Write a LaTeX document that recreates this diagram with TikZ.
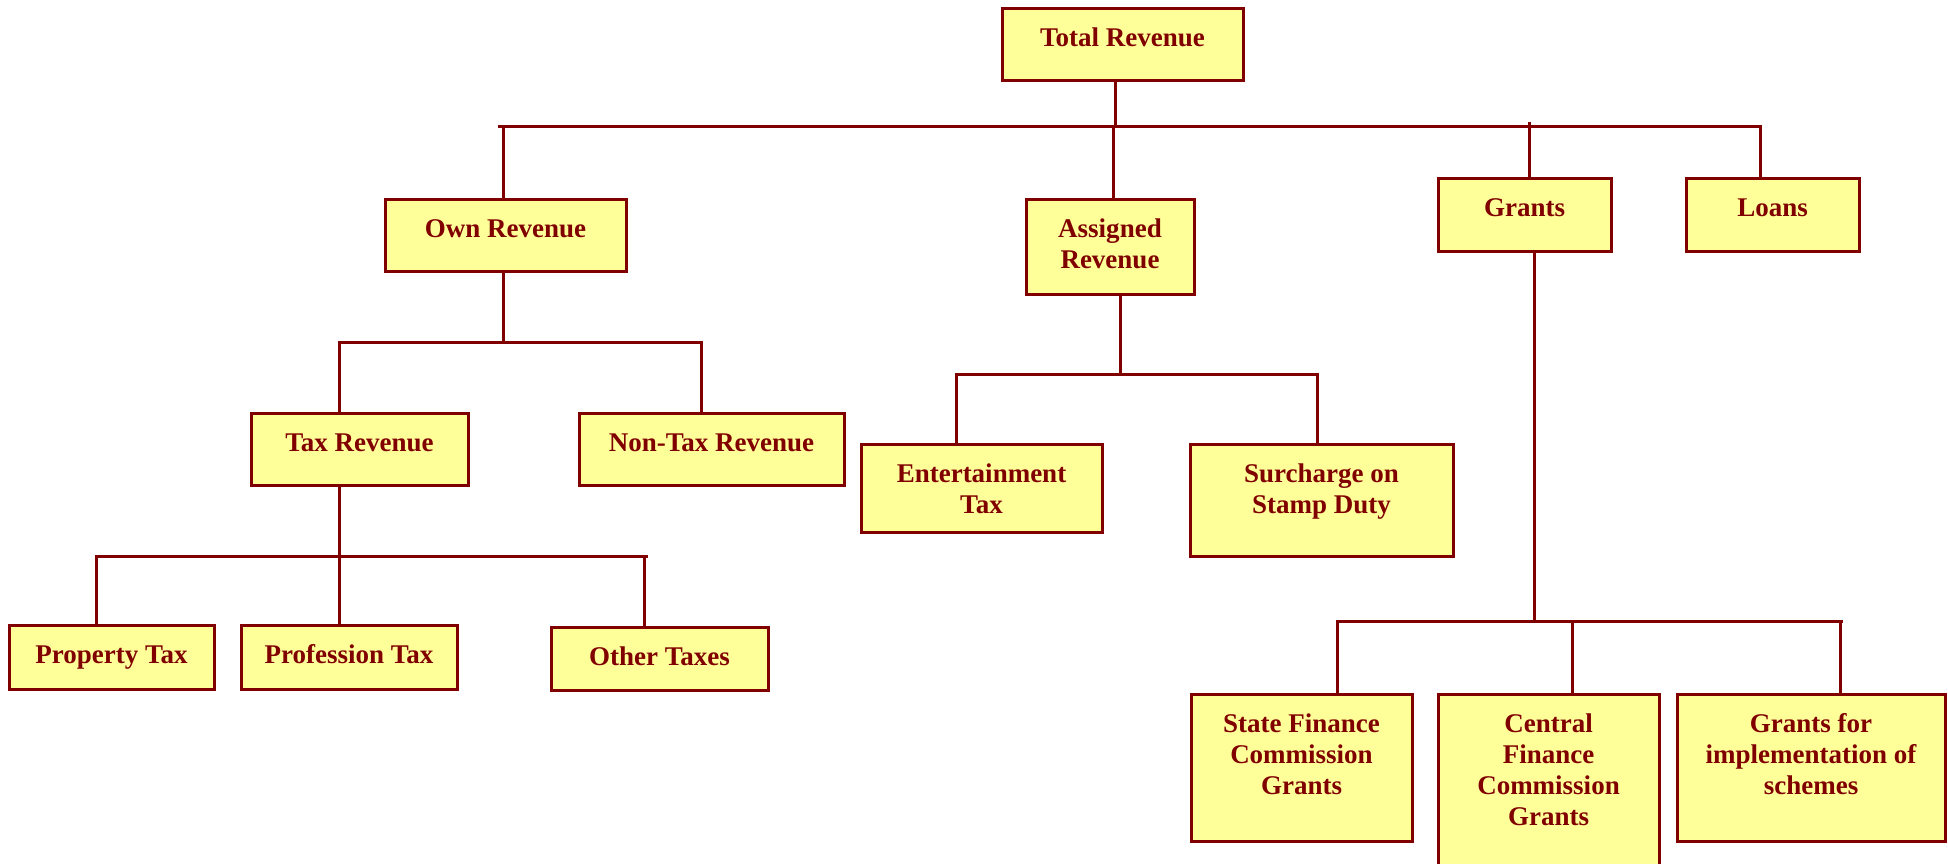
\documentclass[tikz,border=0pt]{standalone}
\usepackage{fontspec}
\setmainfont{Liberation Serif}
\usetikzlibrary{fit,calc}

\definecolor{boxred}{HTML}{800000}
\definecolor{boxfill}{HTML}{FFFF99}

% centred lines of a label, baseline on the first line
\newcommand\stacked[1]{\begin{tabular}[t]{@{}c@{}}#1\end{tabular}}
% \orgbox{name}{left}{top}{right}{bottom}{text}
\newcommand\orgbox[6]{%
  \node[box, fit={(#2,#3) (#4,#5)}] (#1) {};
  \node[lbl] (#1-text) at ($(#1.north)+(0,39.5)$) {\stacked{#6}};}

\begin{document}
\begin{tikzpicture}[
  x=0.4pt, y=-0.4pt,
  box/.style={rectangle, draw=boxred, fill=boxfill, line width=1.2pt, inner sep=0pt},
  lbl/.style={anchor=base, inner sep=0pt, text=boxred,
              font=\fontsize{10.8}{12.4}\selectfont\bfseries},
  link/.style={draw=boxred, line width=1.2pt}
]
\path[use as bounding box] (0,0) rectangle (1948,863);
\clip (0,0) rectangle (1948,863);

% boxes
\orgbox{total}{1002}{8}{1243}{80}{Total Revenue}
\orgbox{own}{385}{199}{626}{271}{Own Revenue}
\orgbox{asg}{1026}{199}{1194}{294}{Assigned\\Revenue}
\orgbox{grants}{1438}{178}{1611}{251}{Grants}
\orgbox{loans}{1686}{178}{1859}{251}{Loans}
\orgbox{tax}{251}{413}{468}{485}{Tax Revenue}
\orgbox{non}{579}{413}{844}{485}{Non-Tax Revenue}
\orgbox{ent}{861}{444}{1102}{532}{Entertainment\\Tax}
\orgbox{sur}{1190}{444}{1453}{556}{Surcharge on\\Stamp Duty}
\orgbox{prop}{9}{625}{214}{689}{Property Tax}
\orgbox{prof}{241}{625}{457}{689}{Profession Tax}
\orgbox{other}{551}{627}{768}{690}{Other Taxes}
\orgbox{state}{1191}{694}{1412}{841}{State Finance\\Commission\\Grants}
\orgbox{central}{1438}{694}{1659}{872}{Central\\Finance\\Commission\\Grants}
\orgbox{gfor}{1677}{694}{1945}{841}{Grants for\\implementation of\\schemes}

% junction points on the horizontal bars
\coordinate (b0L) at (498,126);
\coordinate (c0tot) at (1115,126);
\coordinate (c0own) at (503,126);
\coordinate (c0asg) at (1113,126);
\coordinate (c0gr) at (1529,126);
\coordinate (c0gtop) at (1529,122);
\coordinate (c0loan) at (1760,126);

\coordinate (c1own) at (503,342);
\coordinate (c1tax) at (339,342);
\coordinate (c1non) at (701,342);

\coordinate (c2prop) at (96,556);
\coordinate (c2oth) at (644,556);
\coordinate (b2R) at (648,556);

\coordinate (c3ent) at (956,374);
\coordinate (c3asg) at (1120,374);
\coordinate (c3sur) at (1317,374);

\coordinate (c4st) at (1337,621);
\coordinate (c4gr) at (1534,621);
\coordinate (c4cen) at (1572,621);
\coordinate (c4gf) at (1840,621);
\coordinate (b4R) at (1843,621);

% total revenue and its four parts
\draw[link] (c0tot |- total.south) -- (c0tot);
\draw[link] (b0L) -- (c0loan) -- (c0loan |- loans.north);
\draw[link] (c0own) -- (c0own |- own.north);
\draw[link] (c0asg) -- (c0asg |- asg.north);
\draw[link] (c0gtop) -- (c0gr |- grants.north);

% own revenue
\draw[link] (c1own |- own.south) -- (c1own);
\draw[link] (c1tax |- tax.north) -- (c1tax) -- (c1non) -- (c1non |- non.north);

% tax revenue
\draw[link] (c1tax |- tax.south) -- (c1tax |- prof.north);
\draw[link] (c2prop |- prop.north) -- (c2prop) -- (b2R);
\draw[link] (c2oth) -- (c2oth |- other.north);

% assigned revenue
\draw[link] (c3asg |- asg.south) -- (c3asg);
\draw[link] (c3ent |- ent.north) -- (c3ent) -- (c3sur) -- (c3sur |- sur.north);

% grants
\draw[link] (c4gr |- grants.south) -- (c4gr);
\draw[link] (c4st |- state.north) -- (c4st) -- (b4R);
\draw[link] (c4cen) -- (c4cen |- central.north);
\draw[link] (c4gf) -- (c4gf |- gfor.north);
\end{tikzpicture}
\end{document}
